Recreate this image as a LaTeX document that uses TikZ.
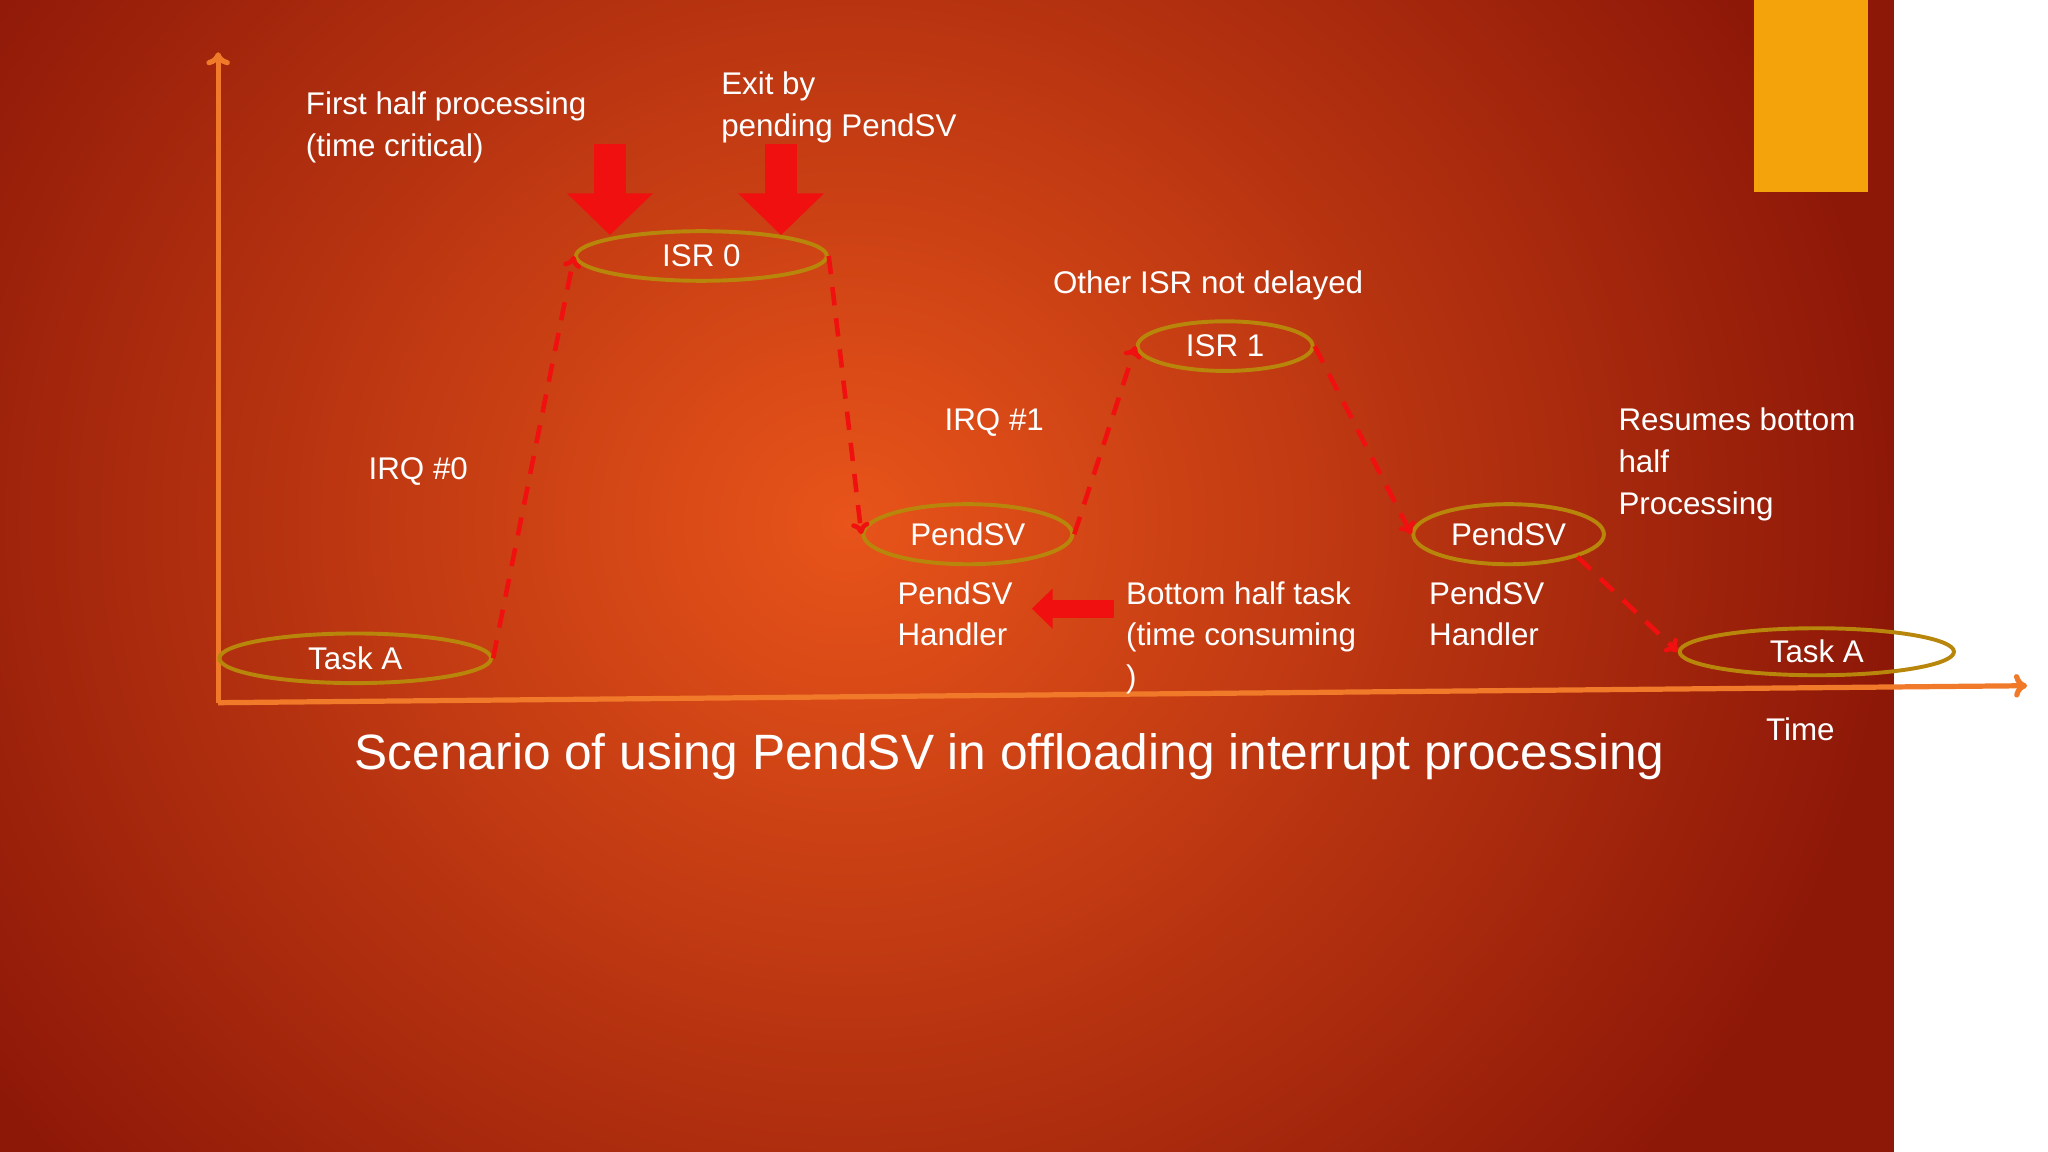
\documentclass[tikz,border=0pt]{standalone}
\usepackage{fontspec}
\setmainfont{Liberation Sans}
\usetikzlibrary{arrows.meta,shapes.geometric}
\definecolor{axis}{HTML}{F07A2A}
\definecolor{gold}{HTML}{B8860B}
\definecolor{bar}{HTML}{F5A30A}
\definecolor{arr}{HTML}{F01010}
\definecolor{bgin}{HTML}{E8541A}
\definecolor{bgout}{HTML}{8E1808}
\begin{document}
\begin{tikzpicture}[x=1pt,y=-1pt,
  ov/.style={ellipse,draw=gold,line width=3pt,text=white,font=\fontsize{24}{28}\selectfont,inner sep=0pt},
  lbl/.style={text=white,font=\fontsize{24}{32}\selectfont,align=left,anchor=north west,inner sep=0pt},
  trans/.style={arr,line width=3.5pt,dash pattern=on 14pt off 10pt,-{To[length=9pt,width=14pt]}},
  big/.style={arr,line width=24pt,-{Triangle[length=32pt,width=64pt]}}]
\useasboundingbox (0,0) rectangle (1568,882);
\begin{scope}
\clip (0,0) rectangle (1568,882);
\shade[inner color=bgin, outer color=bgout] (-150,-350) rectangle (1450,1150);
\end{scope}
\fill[bar] (1343,0) rectangle (1430,147);
% axes
\coordinate (O) at (167,538);
\coordinate (Y) at (167,40);
\coordinate (X) at (1552,525);
\draw[axis,line width=4pt,-{To[length=10pt,width=18pt]}] (O) -- (Y);
\draw[axis,line width=4pt,-{To[length=10pt,width=18pt]}] (O) -- (X);
% ovals
\node[ov,minimum width=208pt,minimum height=38pt] (ta) at (272,504) {Task A};
\node[ov,minimum width=192pt,minimum height=38pt] (i0) at (537,196) {ISR 0};
\node[ov,minimum width=134pt,minimum height=38pt] (i1) at (938,265) {ISR 1};
\node[ov,minimum width=160pt,minimum height=46pt] (p1) at (741,409) {PendSV};
\node[ov,minimum width=146pt,minimum height=46pt] (p2) at (1155,409) {PendSV};
\node[ov,minimum width=210pt,minimum height=36pt] (tb) at (1391,499) {Task A};
% dashed transitions
\draw[trans] (ta.east) -- (i0.west);
\draw[trans] (i0.east) -- (p1.west);
\draw[trans] (p1.east) -- (i1.west);
\draw[trans] (i1.east) -- (p2.west);
\draw[trans] (p2.south east) -- (tb.west);
% big arrows
\coordinate (b1s) at (467,110); \coordinate (b1e) at (467,180);
\coordinate (b2s) at (598,110); \coordinate (b2e) at (598,180);
\draw[big] (b1s) -- (b1e);
\draw[big] (b2s) -- (b2e);
% labels
\node[lbl] (l1) at (234,70) {First half processing\\(time critical)};
\node[lbl] (l2) at (552,55) {Exit by\\pending PendSV};
\node[lbl] (l3) at (806,207) {Other ISR not delayed};
\node[lbl] (l4) at (282,350) {IRQ \#0};
\node[lbl] (l5) at (723,313) {IRQ \#1};
\node[lbl] (l6) at (1239,312) {Resumes bottom\\half\\Processing};
\node[lbl] (l7) at (687,445) {PendSV\\Handler};
\node[lbl] (l8) at (1094,445) {PendSV\\Handler};
\node[lbl] (l9) at (862,445) {Bottom half task\\(time consuming\\)};
\node[lbl] (l10) at (1352,549) {Time};
\coordinate (as) at (853,466); \coordinate (ae) at (790,466);
\draw[arr,line width=14pt,-{Triangle[length=16pt,width=30pt]}] (as) -- (ae);
\node[text=white,font=\fontsize{38}{44}\selectfont,inner sep=0pt] (cap) at (773,579) {Scenario of using PendSV in offloading interrupt processing};
\end{tikzpicture}
\end{document}
